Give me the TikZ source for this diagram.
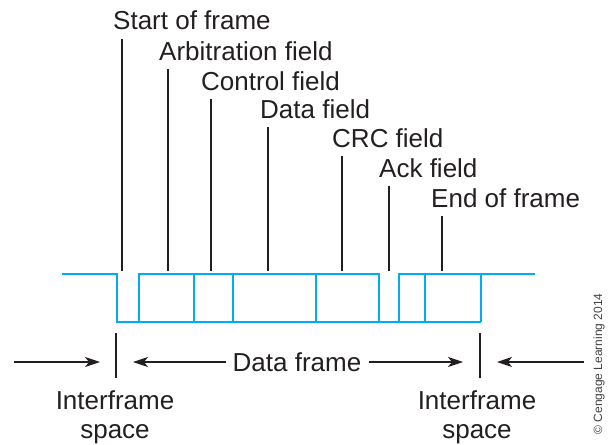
\documentclass[tikz,border=0pt]{standalone}
\usepackage{fontspec}
\setmainfont{Liberation Sans}
\usetikzlibrary{arrows.meta,calc}
\definecolor{ink}{HTML}{231F20}
\definecolor{wire}{HTML}{00AEEF}
\newcommand{\lblsize}{\fontsize{26}{29}\selectfont}

\begin{document}
\begin{tikzpicture}[x=1pt, y=-1pt, font=\lblsize,
  lbl/.style={anchor=base west, inner sep=0pt, text=ink},
  tick/.style={draw=ink, line width=1.1pt},
  sig/.style={draw=wire, line width=2.8pt, line join=miter},
  flow/.style={-{Stealth[length=15pt, width=10pt, inset=4pt]}, draw=ink, line width=1.1pt}]
\useasboundingbox (0,0) rectangle (609,444);
% -- bit stream
\draw[sig] (62,274) -| (117,322) -- (481,322);
\draw[sig] (139,322) |- (379,274) -- (379,322);
\draw[sig] (399,322) |- (535,274);
\foreach \x in {194,233,316,425,481} \draw[sig] (\x,274) -- (\x,322);
% -- field labels
\foreach \n/\t/\tx/\ty/\lx in {sof/Start of frame/113/30/122, arb/Arbitration field/159/60/168,
    ctl/Control field/201/90/211, dat/Data field/260/118/268, crc/CRC field/332/147/342,
    ack/Ack field/379/177/389, eof/End of frame/431/207/442}{
  \node[lbl] (\n) at (\tx,\ty) {\t};
  \coordinate (\n-w) at (\lx,271);
  \draw[tick] ([yshift=-9pt]\n.base -| \n-w) -- (\n-w);
}
% -- frame extent
\coordinate (barL-t) at (116,333); \coordinate (barL-b) at (116,378);
\coordinate (barR-t) at (480,333); \coordinate (barR-b) at (480,378);
\draw[tick] (barL-t) -- (barL-b);
\draw[tick] (barR-t) -- (barR-b);
\coordinate (barL) at (116,362); \coordinate (barR) at (480,362);
\coordinate (farL) at (14,362); \coordinate (farR) at (584,362);
\node[text=ink, inner xsep=7pt, inner ysep=0pt] (df) at (297,362) {Data frame};
\draw[flow, shorten >=16pt] (farL) -- (barL);
\draw[flow, shorten >=17pt] (df.west) -- (barL);
\draw[flow, shorten >=17pt] (df.east) -- (barR);
\draw[flow, shorten >=17pt] (farR) -- (barR);
% -- gaps between frames
\node[anchor=north, align=center, inner sep=0pt, text=ink] (ifsL) at (115,390) {Interframe\\space};
\node[anchor=north, align=center, inner sep=0pt, text=ink] (ifsR) at (477,390) {Interframe\\space};
\node[rotate=90, font=\fontsize{12}{14}\selectfont, text=ink!85] (cpy) at (599,364) {\textcopyright{} Cengage Learning 2014};
\end{tikzpicture}
\end{document}
